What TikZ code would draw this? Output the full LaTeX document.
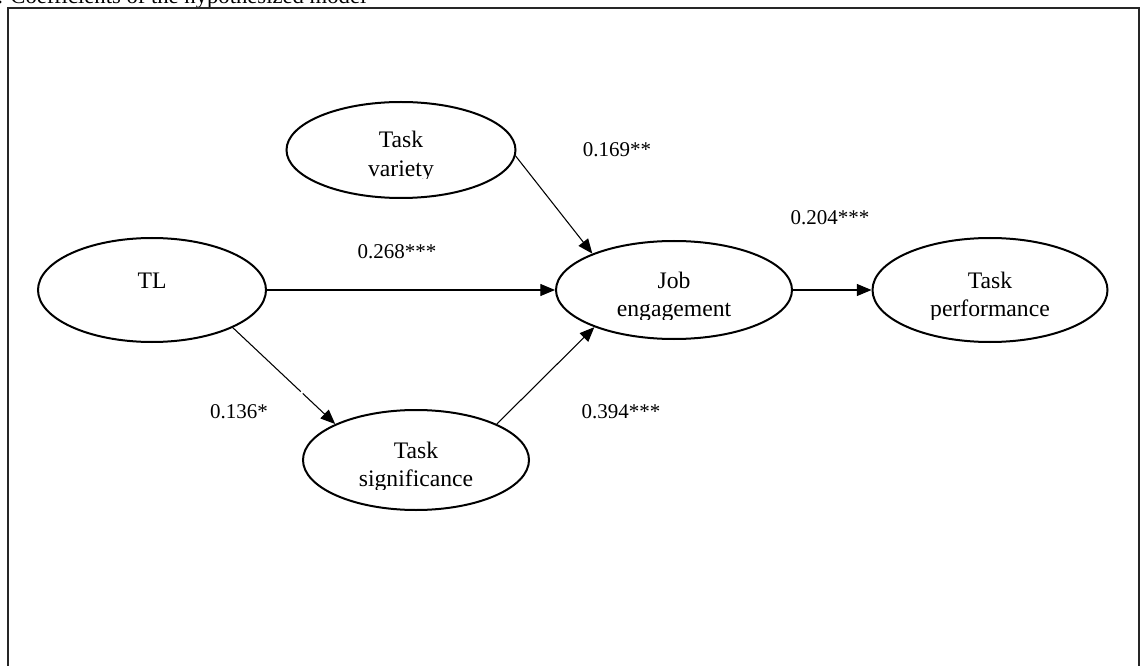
\documentclass[tikz,border=0pt]{standalone}
\usepackage{fontspec}
\setmainfont{Liberation Serif}
\usetikzlibrary{shapes.geometric,arrows.meta,calc}
\newcommand\latentnode[6]{% name, pos, width, height, line1, line2
  \node[lat, minimum width=#3, minimum height=#4] (#1) at (#2) {};
  \node[lbl, anchor=base] (#1-a) at ([yshift=1.5pt]#1.center) {#5};
  \begin{scope}
    \clip ([xshift=-80pt,yshift=-21.75pt]#1.center) rectangle ([xshift=80pt,yshift=0pt]#1.center);
    \node[lbl, anchor=base] (#1-b) at ([yshift=-20pt]#1.center) {#6};
  \end{scope}}
\begin{document}
\begin{tikzpicture}[x=0.75pt,y=-0.75pt,
  lat/.style={ellipse, draw, line width=1.5pt, inner sep=0pt},
  lbl/.style={font=\fontsize{17.75}{20}\selectfont, inner sep=0pt},
  coef/.style={font=\fontsize{15.75}{20}\selectfont, inner sep=0pt},
  conn/.style={line width=0.8pt, -{Triangle[length=11pt,width=9pt]}},
  frame/.style={line width=0.8pt, draw=black!85}]
\useasboundingbox (0,0) rectangle (1144,666);
\clip (0,0) rectangle (1144,666);
% title (cut at top)
\node[coef, anchor=base west, font=\fontsize{17}{20}\selectfont] (title) at (-3,4) {. Coefficients of the hypothesized model};
% frame
\draw[frame] (8,700) -- (8,8) -- (1139,8) -- (1139,700);
% latent variables
\latentnode{tv}{401,150}{171.75pt}{72pt}{Task}{variety}
\node[lat, minimum width=171pt, minimum height=78pt] (tl) at (152,290) {};
\node[lbl, anchor=base] (tl-a) at ([yshift=0.75pt]tl.center) {TL};
\latentnode{je}{674,290}{177pt}{73.5pt}{Job}{engagement}
\latentnode{tp}{990,290}{176.25pt}{78pt}{Task}{performance}
\latentnode{ts}{416,460}{169.5pt}{75pt}{Task}{significance}
% connectors
\draw[conn] (tl.east) -- (je.west);
\draw[conn] (je.east) -- (tp.west);
\draw[conn] (tv.-3) -- (je.156);
\draw[conn, dash pattern={on 70pt off 2pt on 300pt}] (tl.-25) -- (ts.156);
\draw[conn] (ts.24) -- (je.205);
% coefficients
\node[coef] (c1) at (617,150) {0.169**};
\node[coef] (c2) at (397,252) {0.268***};
\node[coef] (c3) at (830,218) {0.204***};
\node[coef] (c4) at (239,412) {0.136*};
\node[coef] (c5) at (621,412) {0.394***};
\end{tikzpicture}
\end{document}
